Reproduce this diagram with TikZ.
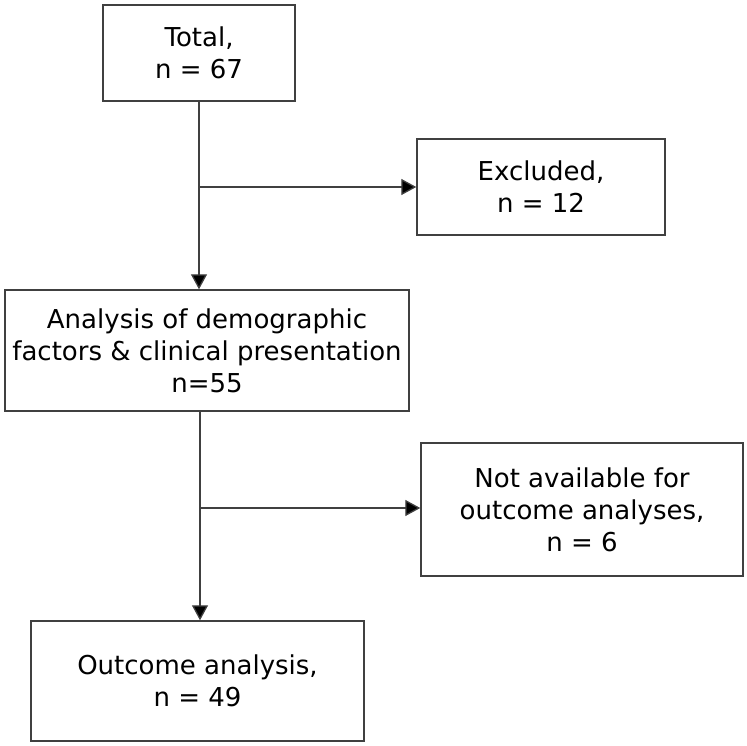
\documentclass[tikz,border=0pt]{standalone}
\usepackage{fontspec}
\setmainfont{DejaVu Sans}
\usetikzlibrary{arrows.meta}
\begin{document}
\begin{tikzpicture}[x=1pt,y=-1pt,
  box/.style={draw=black!75,line width=1.4pt,align=center,font=\fontsize{26}{32}\selectfont,inner sep=0pt},
  conn/.style={draw=black!75,line width=1.3pt},
  arr/.style={conn,-{Triangle[length=15pt,width=16pt,fill=black]}}]
\useasboundingbox (0,0) rectangle (747,746);
\node[box,minimum width=192pt,minimum height=96pt] (total) at (199,53) {Total,\\n = 67};
\node[box,minimum width=248pt,minimum height=96pt] (excl) at (541,187) {Excluded,\\n = 12};
\node[box,minimum width=404pt,minimum height=121pt] (anal) at (207,350.5) {Analysis of demographic\\factors \& clinical presentation\\n=55};
\node[box,minimum width=322pt,minimum height=133pt] (nav) at (582,509.5) {Not available for\\outcome analyses,\\n = 6};
\node[box,minimum width=333pt,minimum height=120pt] (out) at (197.5,681) {Outcome analysis,\\n = 49};
\coordinate (b1) at (199,187);
\coordinate (b2) at (200,508);
\draw[arr] (total.south -| b1) -- (anal.north -| b1);
\draw[arr] (b1) -- (excl.west |- b1);
\draw[arr] (anal.south -| b2) -- (out.north -| b2);
\draw[arr] (b2) -- (nav.west |- b2);
\end{tikzpicture}
\end{document}
